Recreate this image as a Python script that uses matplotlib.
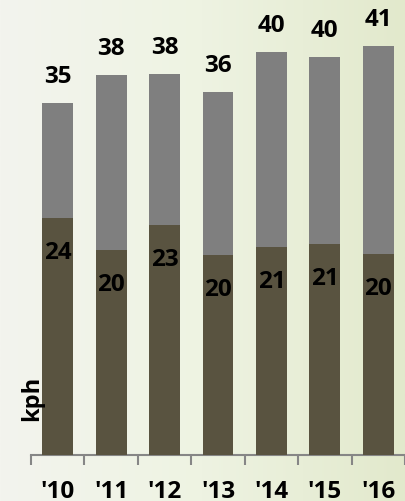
import matplotlib
matplotlib.use("Agg")
import matplotlib.pyplot as plt
import numpy as np
from matplotlib.colors import LinearSegmentedColormap

years = ["'10", "'11", "'12", "'13", "'14", "'15", "'16"]
total = [35.0, 37.8, 37.9, 36.1, 40.1, 39.6, 40.7]
lower = [23.6, 20.4, 22.9, 19.9, 20.7, 21.0, 20.0]

GRAY = "#7f7f7f"
DARK = "#595340"
AXIS = "#868686"
FONT = "Open Sans"

fig = plt.figure(figsize=(4.05, 5.01), dpi=100)

# background gradient, pale at left to light green at right
bg = fig.add_axes([0, 0, 1, 1], zorder=0)
cmap = LinearSegmentedColormap.from_list("bg", ["#f3f4ee", "#eef3e2", "#e2e9cc"])
grad = np.linspace(0, 1, 256).reshape(1, -1)
bg.imshow(grad, aspect="auto", cmap=cmap, extent=[0, 1, 0, 1])
bg.axis("off")

W, H = 405, 501
ax = fig.add_axes([31 / W, 46 / H, 374 / W, 455 / H], zorder=1)
ax.patch.set_alpha(0)

x = np.arange(len(years))
ax.bar(x, total, width=0.58, color=GRAY, zorder=2)
ax.bar(x, lower, width=0.58, color=DARK, zorder=3)

for xi, t, lo in zip(x, total, lower):
    ax.annotate(f"{t:.0f}", (xi, t), xytext=(0, 26), textcoords="offset pixels",
                ha="center", va="center", fontsize=17.5, fontweight="bold",
                family=FONT, color="black")
    ax.annotate(f"{lo:.0f}", (xi, lo), xytext=(0, -35), textcoords="offset pixels",
                ha="center", va="center", fontsize=17.5, fontweight="bold",
                family=FONT, color="black", zorder=4)

ax.set_xlim(-0.5, (405 - 59) / 55.3)
ax.set_ylim(0, 455 / 10.05)

for s in ["top", "right", "left"]:
    ax.spines[s].set_visible(False)
ax.spines["bottom"].set_color(AXIS)
ax.spines["bottom"].set_linewidth(1.5)
ax.set_yticks([])

ax.set_xticks(x)
ax.set_xticklabels(years, fontsize=17.5, fontweight="bold", family=FONT)
ax.tick_params(axis="x", which="major", length=0, pad=18)
ax.set_xticks(np.arange(-0.5, 7, 1), minor=True)
ax.tick_params(axis="x", which="minor", length=7, width=1.5, color=AXIS)

fig.text(32 / W, 1 - 398 / H, "kph", rotation=90, ha="center", va="center",
         fontsize=17, fontweight="bold", family=FONT)

fig.savefig("out.png", dpi=100)
